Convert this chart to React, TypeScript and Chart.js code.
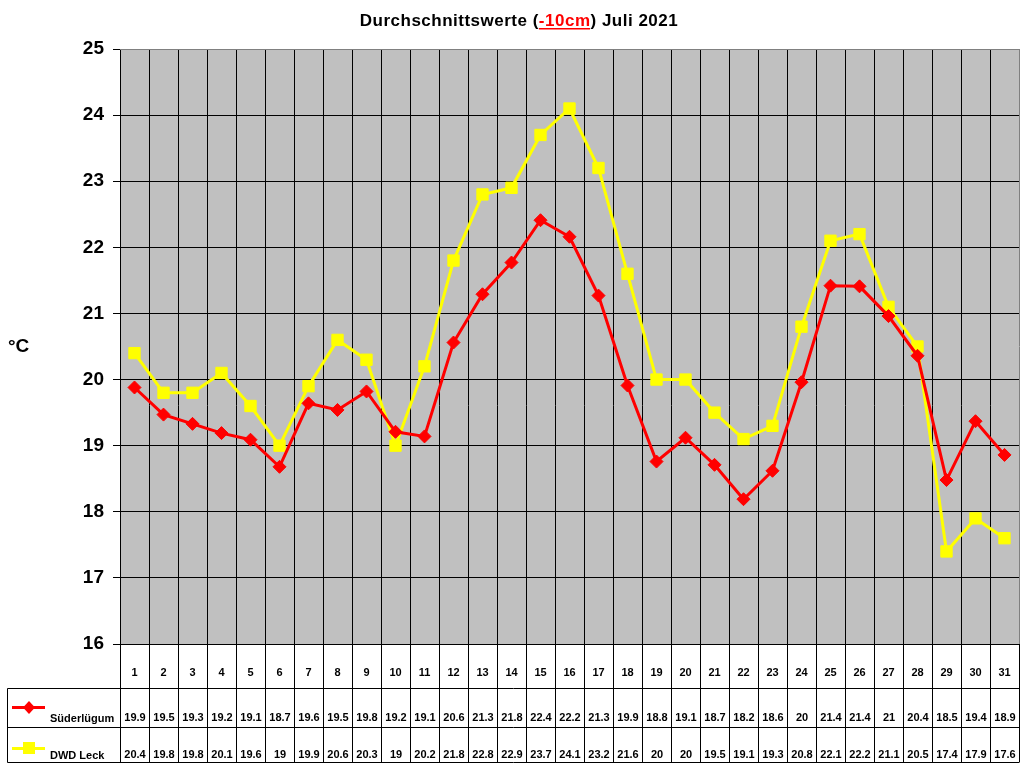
import React, { useEffect, useRef } from "react";
import { Chart, registerables } from "chart.js";

Chart.register(...registerables);

const days: string[] = Array.from({ length: 31 }, (_, i) => String(i + 1));
const suederluegum: number[] = [
  19.88, 19.47, 19.33, 19.19, 19.09, 18.68, 19.64, 19.54, 19.82, 19.21, 19.14,
  20.56, 21.29, 21.77, 22.41, 22.16, 21.27, 19.91, 18.76, 19.12, 18.71, 18.19,
  18.62, 19.96, 21.42, 21.41, 20.96, 20.36, 18.48, 19.37, 18.86,
];
const dwdLeck: number[] = [
  20.4, 19.8, 19.8, 20.1, 19.6, 19, 19.9, 20.6, 20.3, 19, 20.2, 21.8, 22.8,
  22.9, 23.7, 24.1, 23.2, 21.6, 20, 20, 19.5, 19.1, 19.3, 20.8, 22.1, 22.2,
  21.1, 20.5, 17.4, 17.9, 17.6,
];
const seriesNames: string[] = ["Süderlügum", "DWD Leck"];
const yMin = 16;
const yMax = 25;

const FONT = "'Liberation Sans', Arial, sans-serif";
const fmt = (v: number) => String(Math.round(v * 10) / 10);

const tablePlugin = {
  id: "tablePlugin",
  beforeDraw(chart: any) {
    const { ctx, chartArea } = chart;
    ctx.save();
    ctx.fillStyle = "#ffffff";
    ctx.fillRect(0, 0, chart.width, chart.height);
    ctx.fillStyle = "#C0C0C0";
    ctx.fillRect(chartArea.left, chartArea.top, chartArea.right - chartArea.left, chartArea.bottom - chartArea.top);
    ctx.restore();
  },
  beforeDatasetsDraw(chart: any) {
    const { ctx, chartArea } = chart;
    const xs = chart.scales.x;
    const n = days.length;
    const step = xs.getPixelForValue(1) - xs.getPixelForValue(0);
    const tableTop = 688;
    const row2 = 727;
    const tableBottom = 762;
    const tableLeft = 7;
    ctx.save();
    ctx.lineWidth = 1;
    ctx.strokeStyle = "#000000";
    for (let i = 0; i <= n; i++) {
      const x = Math.round(xs.getPixelForValue(i) - step / 2) + 0.5;
      ctx.beginPath();
      ctx.moveTo(x, i === 0 || i === n ? chartArea.bottom : chartArea.top);
      ctx.lineTo(x, tableBottom);
      ctx.stroke();
    }
    const right = Math.round(xs.getPixelForValue(n - 1) + step / 2) + 0.5;
    [tableTop, row2, tableBottom].forEach((y) => {
      ctx.beginPath();
      ctx.moveTo(tableLeft + 0.5, y + 0.5);
      ctx.lineTo(right, y + 0.5);
      ctx.stroke();
    });
    ctx.beginPath();
    ctx.moveTo(tableLeft + 0.5, tableTop + 0.5);
    ctx.lineTo(tableLeft + 0.5, tableBottom + 0.5);
    ctx.stroke();
    ctx.strokeStyle = "#808080";
    ctx.beginPath();
    ctx.moveTo(chartArea.left, Math.round(chartArea.top) + 0.5);
    ctx.lineTo(right, Math.round(chartArea.top) + 0.5);
    ctx.moveTo(right, chartArea.top);
    ctx.lineTo(right, chartArea.bottom);
    ctx.stroke();

    ctx.fillStyle = "#000000";
    ctx.font = `bold 11px ${FONT}`;
    ctx.textAlign = "center";
    ctx.textBaseline = "middle";
    for (let i = 0; i < n; i++) {
      const x = xs.getPixelForValue(i);
      ctx.fillText(days[i], x, 673);
      ctx.fillText(fmt(suederluegum[i]), x + 0.5, 718);
      ctx.fillText(fmt(dwdLeck[i]), x + 0.5, 755);
    }
    ctx.textAlign = "left";
    ctx.fillText(seriesNames[0], 50, 719);
    ctx.fillText(seriesNames[1], 50, 756);
    ctx.lineWidth = 3;
    ctx.strokeStyle = "#FF0000";
    ctx.beginPath();
    ctx.moveTo(12, 707.5);
    ctx.lineTo(45, 707.5);
    ctx.stroke();
    ctx.fillStyle = "#FF0000";
    ctx.beginPath();
    ctx.moveTo(29, 701);
    ctx.lineTo(35, 707.5);
    ctx.lineTo(29, 714);
    ctx.lineTo(23, 707.5);
    ctx.closePath();
    ctx.fill();
    ctx.strokeStyle = "#FFFF00";
    ctx.beginPath();
    ctx.moveTo(12, 748.5);
    ctx.lineTo(45, 748.5);
    ctx.stroke();
    ctx.fillStyle = "#FFFF00";
    ctx.fillRect(23, 742, 12, 12);

    ctx.fillStyle = "#000000";
    ctx.font = `bold 19px ${FONT}`;
    ctx.textBaseline = "alphabetic";
    ctx.fillText("°C", 8, 352);

    const parts = [
      { t: "Durchschnittswerte (", c: "#000000", u: false },
      { t: "-10cm", c: "#FF0000", u: true },
      { t: ") Juli 2021", c: "#000000", u: false },
    ];
    ctx.font = `bold 17px ${FONT}`;
    try {
      (ctx as any).letterSpacing = "0.5px";
    } catch (e) {}
    const total = parts.reduce((s, p) => s + ctx.measureText(p.t).width, 0);
    let x = 519 - total / 2;
    const by = 26;
    parts.forEach((p) => {
      const w = ctx.measureText(p.t).width;
      ctx.fillStyle = p.c;
      ctx.fillText(p.t, x, by);
      if (p.u) {
        ctx.fillRect(x, by + 2, w - 0.5, 1.5);
      }
      x += w;
    });
    try {
      (ctx as any).letterSpacing = "0px";
    } catch (e) {}
    ctx.restore();
  },
};

export default function App() {
  const ref = useRef<HTMLCanvasElement | null>(null);
  useEffect(() => {
    if (!ref.current) return;
    const chart = new Chart(ref.current, {
      type: "line",
      data: {
        labels: days,
        datasets: [
          {
            label: seriesNames[0],
            data: suederluegum,
            borderColor: "#FF0000",
            backgroundColor: "#FF0000",
            borderWidth: 3,
            pointStyle: "rectRot",
            pointRadius: 6.5,
            pointBorderWidth: 1,
            pointBorderColor: "#FF0000",
            pointBackgroundColor: "#FF0000",
            tension: 0,
            order: 1,
          },
          {
            label: seriesNames[1],
            data: dwdLeck,
            borderColor: "#FFFF00",
            backgroundColor: "#FFFF00",
            borderWidth: 3,
            pointStyle: "rect",
            pointRadius: 8,
            pointBorderWidth: 1,
            pointBorderColor: "#FFFF00",
            pointBackgroundColor: "#FFFF00",
            tension: 0,
            order: 2,
          },
        ],
      },
      options: {
        responsive: false,
        animation: false,
        devicePixelRatio: 1,
        layout: { autoPadding: false, padding: { top: 49, right: 5, bottom: 124, left: 0 } },
        plugins: {
          legend: { display: false },
          title: { display: false },
          tooltip: { enabled: false },
        },
        scales: {
          x: {
            type: "category",
            offset: true,
            display: false,
          },
          y: {
            min: yMin,
            max: yMax,
            afterFit: (s: any) => {
              s.width = 120;
            },
            ticks: {
              stepSize: 1,
              color: "#000000",
              padding: 9,
              font: { family: FONT, size: 19, weight: "bold" },
            },
            grid: {
              color: (c: any) => (c.tick && c.tick.value === yMax ? "#808080" : "#000000"),
              lineWidth: 1,
              drawTicks: true,
              tickLength: 7,
              tickColor: "#000000",
            },
            border: { color: "#000000", width: 1 },
          },
        },
      },
      plugins: [tablePlugin],
    });
    return () => chart.destroy();
  }, []);
  return (
    <div style={{ position: "absolute", left: 0, top: 0, width: 1024, height: 768 }}>
      <canvas ref={ref} width={1024} height={768} />
    </div>
  );
}
